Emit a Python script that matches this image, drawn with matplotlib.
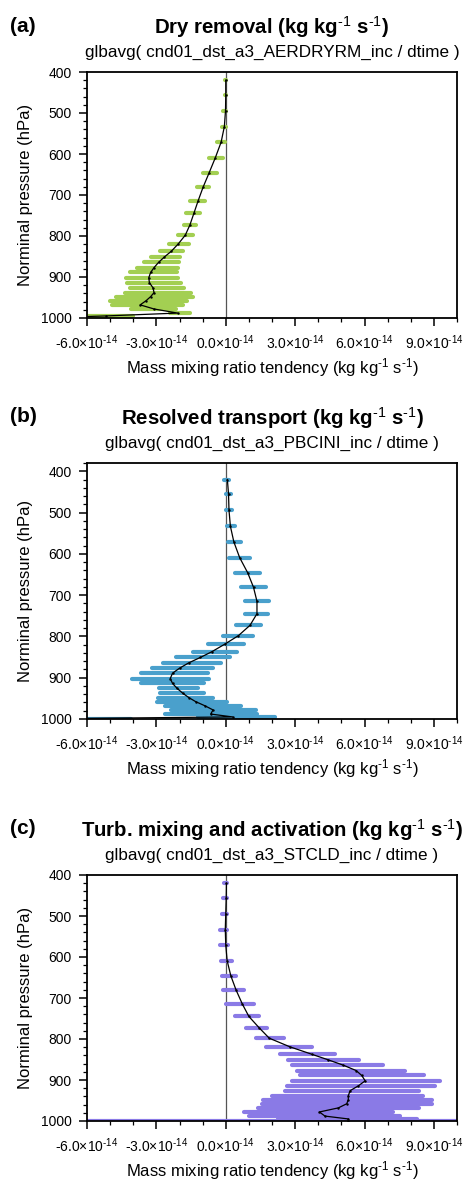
import numpy as np
import matplotlib
matplotlib.use('Agg')
import matplotlib.pyplot as plt
from matplotlib.ticker import MultipleLocator, FixedLocator

plt.rcParams['font.family'] = ['Liberation Sans', 'DejaVu Sans']
plt.rcParams['mathtext.fontset'] = 'custom'
plt.rcParams['mathtext.rm'] = 'Liberation Sans'
plt.rcParams['mathtext.it'] = 'Liberation Sans:italic'
plt.rcParams['mathtext.bf'] = 'Liberation Sans:bold'

# model levels (hPa)
levels = [420, 455, 494, 533, 571, 609, 646, 681, 715, 745, 773, 798, 819, 837,
          851, 864, 877, 889, 902, 914, 926, 938, 948, 958, 968, 978, 988, 995, 999]

# values in units of 1e-14 kg/kg/s
dry_min = [-0.05, -0.05, -0.1, -0.17, -0.36, -0.71, -1.0, -1.24, -1.54, -1.72, -1.82, -2.05,
           -2.44, -2.84, -3.23, -3.54, -3.85, -4.14, -4.31, -4.26, -4.14, -4.36, -4.75, -5.01,
           -4.92, -4.10, -2.41, -6.5, -9.0]
dry_max = [0.0, 0.0, 0.0, 0.0, -0.03, -0.13, -0.39, -0.71, -0.91, -1.10, -1.27, -1.41,
           -1.59, -1.83, -1.98, -2.02, -2.05, -2.12, -2.06, -1.93, -1.79, -1.52, -1.40, -1.69,
           -1.83, -2.15, -1.54, -4.0, -7.0]
dry_mean = [0.0, 0.0, -0.01, -0.06, -0.2, -0.45, -0.72, -0.98, -1.2, -1.38, -1.55, -1.75,
            -2.05, -2.35, -2.65, -2.9, -3.1, -3.25, -3.33, -3.3, -3.15, -3.1, -3.25, -3.45,
            -3.7, -3.1, -2.08, -5.2, -7.5]

trn_min = [-0.06, 0.0, 0.01, 0.04, 0.09, 0.16, 0.38, 0.65, 0.83, 0.83, 0.45, -0.12,
           -0.75, -1.43, -2.16, -2.70, -3.19, -3.65, -4.06, -3.68, -2.88, -2.86, -2.93, -2.97,
           -2.62, -2.38, -2.62, -1.2, -8.0]
trn_max = [0.16, 0.22, 0.29, 0.42, 0.65, 1.06, 1.49, 1.74, 1.86, 1.83, 1.54, 1.17,
           0.80, 0.48, 0.19, -0.20, -0.54, -0.78, -0.71, -0.93, -1.19, -0.93, -0.57, 0.04,
           0.65, 1.30, 1.36, 2.14, -4.1]
trn_mean = [0.07, 0.12, 0.14, 0.2, 0.35, 0.6, 0.95, 1.2, 1.35, 1.35, 1.05, 0.55,
            -0.05, -0.6, -1.1, -1.6, -2.0, -2.3, -2.4, -2.3, -2.1, -1.85, -1.6, -1.3,
            -0.9, -0.55, -0.65, 0.3, -7.0]

mix_min = [-0.09, -0.14, -0.17, -0.23, -0.23, -0.2, -0.17, -0.12, 0.0, 0.38, 0.89, 1.30,
           1.76, 2.34, 2.70, 2.88, 3.06, 3.21, 2.88, 2.63, 2.56, 2.02, 1.62, 1.55,
           1.40, 0.79, 1.01, 2.27, -8.0]
mix_max = [0.06, 0.06, 0.06, 0.07, 0.10, 0.25, 0.43, 0.78, 1.21, 1.44, 1.79, 2.51,
           3.71, 4.73, 5.77, 6.78, 7.73, 8.58, 9.25, 9.03, 8.37, 8.53, 8.92, 8.92,
           8.34, 7.25, 7.54, 8.27, 12.0]
mix_mean = [0.03, 0.02, 0.0, -0.02, 0.0, 0.06, 0.22, 0.45, 0.72, 1.0, 1.45, 1.88,
            2.77, 3.71, 4.44, 5.09, 5.64, 5.88, 6.03, 5.74, 5.38, 5.30, 5.30, 5.23,
            4.87, 4.05, 4.29, 5.30, 5.30]

panels = [
    ('(a)', 'Dry removal', 'glbavg( cnd01_dst_a3_AERDRYRM_inc / dtime )',
     dry_min, dry_max, dry_mean, '#a3cf52', 400),
    ('(b)', 'Resolved transport', 'glbavg( cnd01_dst_a3_PBCINI_inc / dtime )',
     trn_min, trn_max, trn_mean, '#4aa0cc', 380),
    ('(c)', 'Turb. mixing and activation', 'glbavg( cnd01_dst_a3_STCLD_inc / dtime )',
     mix_min, mix_max, mix_mean, '#8a7ae6', 400),
]

W, H = 465, 1181
fig = plt.figure(figsize=(W / 100, H / 100), dpi=100)

# axes boxes in pixels: (top, bottom)
boxes = [(72, 318), (463, 719), (875, 1121)]
left, right = 87, 457

scale = 1e-14
xticks = [-6, -3, 0, 3, 6, 9]
unit = r' (kg kg$^{\text{-1}}$ s$^{\text{-1}}$)'

for (tag, title, sub, vmin, vmax, vmean, color, ptop), (top, bot) in zip(panels, boxes):
    ax = fig.add_axes([left / W, 1 - bot / H, (right - left) / W, (bot - top) / H])
    lev = np.array(levels)
    bars = ax.hlines(lev, np.array(vmin) * scale, np.array(vmax) * scale,
                     colors=color, linewidth=3.0, zorder=2)
    bars.set_capstyle('round')
    ax.axvline(0, color='#555555', lw=0.9, zorder=1)
    ax.plot(np.array(vmean) * scale, lev, color='black', lw=0.9,
            marker='.', ms=1.5, zorder=3)

    ax.set_xlim(-6e-14, 10e-14)
    ax.set_ylim(1000, ptop)
    ax.xaxis.set_major_locator(FixedLocator([v * scale for v in xticks]))
    ax.set_xticklabels([f'{v:.1f}\u00d710$^{{\\text{{-14}}}}$' for v in xticks])
    ax.xaxis.set_minor_locator(MultipleLocator(1e-14))
    ax.yaxis.set_major_locator(FixedLocator([400, 500, 600, 700, 800, 900, 1000]))
    ax.yaxis.set_minor_locator(MultipleLocator(20))

    ax.tick_params(which='both', direction='out', top=False, right=False, labelsize=10)
    ax.tick_params(which='major', length=6, width=1.1)
    ax.tick_params(which='minor', length=3.2, width=0.9)
    ax.tick_params(axis='x', pad=5)
    ax.tick_params(axis='y', pad=5)
    for s in ax.spines.values():
        s.set_linewidth(1.3)
        s.set_zorder(4)

    ax.set_xlabel('Mass mixing ratio tendency' + unit, fontsize=12, labelpad=3)
    ax.set_ylabel('Norminal pressure (hPa)', fontsize=12, labelpad=6)

    ax.text(0.5, 1.0 + 20 / (bot - top), sub, transform=ax.transAxes,
            ha='center', va='center', fontsize=12.3)
    ax.text(0.5, 1.0 + 45 / (bot - top), title + unit,
            transform=ax.transAxes, ha='center', va='center', fontsize=14.7, fontweight='bold')
    fig.text(10 / W, 1 - (top - 46) / H, tag, ha='left', va='center',
             fontsize=15, fontweight='bold')

fig.savefig('out.png', dpi=100)
